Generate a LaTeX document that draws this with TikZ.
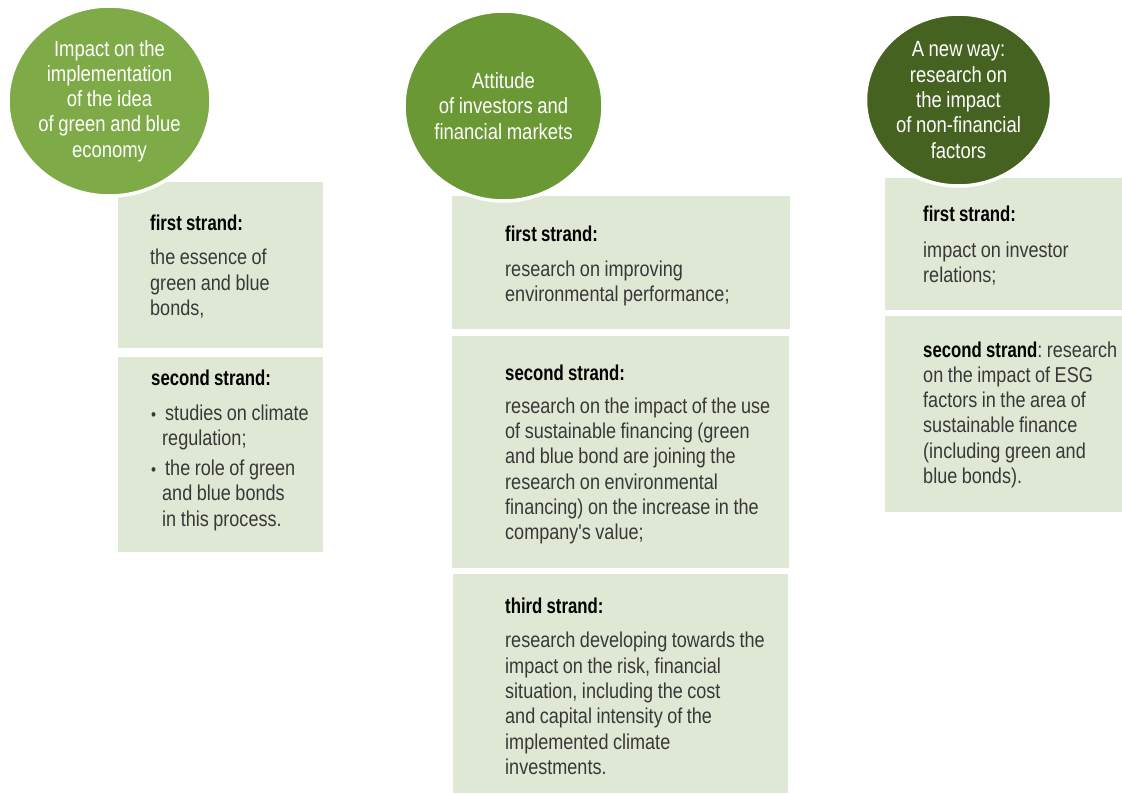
\documentclass[tikz,border=0pt]{standalone}
\usepackage{fontspec}
\setmainfont{Liberation Sans}[FakeStretch=0.84, WordSpace=0.9, Ligatures=TeXOff]
\newfontfamily\headfont{Liberation Sans}[FakeStretch=0.78, WordSpace=0.9]
\usetikzlibrary{shapes.geometric}

\definecolor{greenA}{HTML}{7EAB47}
\definecolor{greenB}{HTML}{6A9834}
\definecolor{greenC}{HTML}{456221}
\definecolor{panel}{HTML}{DFE8D5}
\definecolor{bodytext}{HTML}{383838}

\newcommand\strandhead[1]{{\headfont\bfseries\color{black}#1}}
\newcommand\bulletitem{{\fontsize{17}{17}\selectfont\textbullet}\hspace{9pt}}

\begin{document}
\hyphenpenalty=10000
\frenchspacing
\begin{tikzpicture}[x=1pt,y=-1pt,
  panelbox/.style={fill=panel, draw=none, inner sep=0pt, anchor=north west},
  topic/.style={ellipse, fill=#1, draw=white, line width=3.5pt, inner sep=0pt,
    text=white, align=center, font=\fontsize{22}{25.3}\selectfont},
  strandtext/.style={anchor=base west, inner sep=0pt, text width=#1, align=left,
    text=bodytext, font=\fontsize{21.5}{25.3}\selectfont,
    execute at begin node={\spaceskip=0pt\xspaceskip=0pt\frenchspacing}}
]
\useasboundingbox (0,0) rectangle (1122,793);

% ---- panels ----
\node[panelbox, minimum width=205, minimum height=166] (p1a) at (118,182) {};
\node[panelbox, minimum width=205, minimum height=195] (p1b) at (118,357) {};
\node[panelbox, minimum width=338, minimum height=133] (p2a) at (452,196) {};
\node[panelbox, minimum width=337, minimum height=232] (p2b) at (452,336) {};
\node[panelbox, minimum width=335, minimum height=219] (p2c) at (453,574) {};
\node[panelbox, minimum width=237, minimum height=132] (p3a) at (885,178) {};
\node[panelbox, minimum width=237, minimum height=196] (p3b) at (885,316) {};

% ---- panel texts ----
\node[strandtext=200] (t1a) at (150,230)
  {\strandhead{first strand:}\\[9.5pt]
   the essence of\\ green and blue\\ bonds,};
\node[strandtext=200] (t1b) at (151,385)
  {\strandhead{second strand:}\\[10pt]
   \bulletitem studies on climate\\
   \hspace*{11pt}regulation;\\[4.5pt]
   \bulletitem the role of green\\
   \hspace*{11pt}and blue bonds\\
   \hspace*{11pt}in this process.};

\node[strandtext=320] (t2a) at (505,241)
  {\strandhead{first strand:}\\[10pt]
   research on improving\\ environmental performance;};
\node[strandtext=320] (t2b) at (505,380)
  {\strandhead{second strand:}\\[8pt]
   research on the impact of the use\\
   of sustainable financing (green\\
   and blue bond are joining the\\
   research on environmental\\
   financing) on the increase in the\\
   company's value;};
\node[strandtext=320] (t2c) at (505,613)
  {\strandhead{third strand:}\\[9.5pt]
   research developing towards the\\
   impact on the risk, financial\\
   situation, including the cost\\
   and capital intensity of the\\
   implemented climate\\
   investments.};

\node[strandtext=240] (t3a) at (923,221)
  {\strandhead{first strand:}\\[11pt]
   impact on investor\\ relations;};
\node[strandtext=240] (t3b) at (923,357)
  {\strandhead{second strand}: research\\
   on the impact of ESG\\
   factors in the area of\\
   sustainable finance\\
   (including green and\\
   blue bonds).};

% ---- topic circles ----
\node[topic=greenA, minimum width=203, minimum height=190] (c1) at (109.5,101)
  {Impact on the\\ implementation\\ of the idea\\ of green and blue\\ economy};
\node[topic=greenB, minimum width=199, minimum height=190] (c2) at (503.5,106)
  {Attitude\\ of investors and\\ financial markets};
\node[topic=greenC, minimum width=186, minimum height=172] (c3) at (958.5,100)
  {A new way:\\ research on\\ the impact\\ of non-financial\\ factors};

\end{tikzpicture}
\end{document}
